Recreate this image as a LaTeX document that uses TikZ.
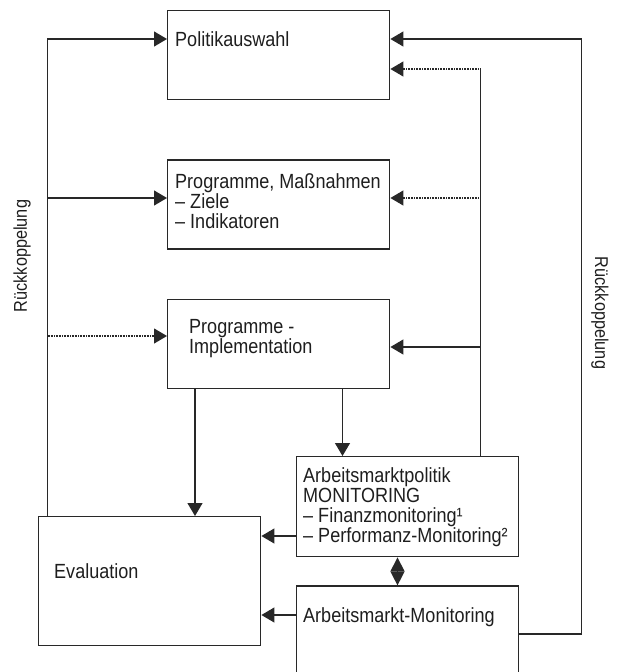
\documentclass[tikz,border=0pt]{standalone}
\usepackage{fontspec}
\setmainfont[FakeStretch=0.88]{Liberation Sans}
\usepackage{xcolor}
\usetikzlibrary{arrows.meta, positioning}
\definecolor{linegray}{RGB}{40,40,40}
\definecolor{textgray}{RGB}{30,30,30}
\tikzset{
  box/.style={
    rectangle, draw=linegray, line width=1.4pt, minimum width=222pt,
    inner sep=0pt, anchor=north west
  },
  txt/.style={
    anchor=base west, inner sep=0pt, align=left, text=textgray,
    font=\fontsize{20.5pt}{20pt}\selectfont
  },
  side/.style={inner sep=0pt, text=textgray, font=\fontsize{18.5pt}{20pt}\selectfont},
  link/.style={line width=1.2pt, draw=linegray},
  arr/.style={link, -{Triangle[length=13pt, width=15pt]}},
  dotarr/.style={arr, dash pattern=on 1pt off 0.6pt},
  twoarr/.style={link, {Triangle[length=14pt, width=14pt]}-{Triangle[length=14pt, width=14pt]}}
}

\begin{document}
\begin{tikzpicture}[x=1pt, y=-1pt]
  \useasboundingbox (0,0) rectangle (617,672);

  % boxes
  \node[box, minimum height=89.5pt] (politik) at (167,9.5) {};
  \node[box, minimum height=89pt, below=59pt of politik] (massn) {};
  \node[box, minimum height=89pt, below=49pt of massn] (impl) {};
  \node[box, minimum height=100pt] (apmon) at (296,456) {};
  \node[box, minimum height=129pt] (eval) at (38,516) {};
  \node[box, minimum height=120pt, below=28pt of apmon] (ammon) {};

  % texts (base = last line)
  \node[txt] (politiktxt) at ([shift={(8pt,-36.5pt)}]politik.north west) {Politikauswahl};
  \node[txt] (massntxt) at ([shift={(8pt,-69pt)}]massn.north west)
    {Programme, Maßnahmen\\– Ziele\\– Indikatoren};
  \node[txt] (impltxt) at ([shift={(22pt,-55pt)}]impl.north west) {Programme -\\Implementation};
  \node[txt] (apmontxt) at ([shift={(7pt,-86pt)}]apmon.north west)
    {Arbeitsmarktpolitik\\MONITORING\\– Finanzmonitoring¹\\– Performanz-Monitoring²};
  \node[txt] (ammontxt) at ([shift={(7pt,-37pt)}]ammon.north west) {Arbeitsmarkt-Monitoring};
  \node[txt] (evaltxt) at ([shift={(16pt,-62pt)}]eval.north west) {Evaluation};

  \node[side, rotate=90] (rueckl) at (22,256) {Rückkoppelung};
  \node[side, rotate=-90] (rueckr) at (600,313) {Rückkoppelung};

  % rails
  \coordinate (ltop) at (47.5,39);
  \coordinate (lmid) at (47.5,198);
  \coordinate (limp) at (47.5,336);
  \coordinate (itop) at (480.5,69);
  \coordinate (imid) at (480.5,198);
  \coordinate (iimp) at (480.5,347);
  \coordinate (otop) at (581.5,39);
  \coordinate (obot) at (581.5,634);
  \coordinate (ie) at (195,0);
  \coordinate (ia) at (342.5,0);
  \coordinate (dm) at (397.5,0);
  \coordinate (ae) at (0,536);
  \coordinate (me) at (0,615);

  % left feedback
  \draw[arr] (eval.north -| ltop) -- (ltop) -- (ltop -| politik.west);
  \draw[arr] (lmid) -- (lmid -| massn.west);
  \draw[dotarr] (limp) -- (limp -| impl.west);

  % monitoring back to the top
  \draw[link] (apmon.north -| itop) -- (itop);
  \draw[dotarr] (itop) -- (itop -| politik.east);
  \draw[dotarr] (imid) -- (imid -| massn.east);
  \draw[arr] (iimp) -- (iimp -| impl.east);

  % right feedback
  \draw[arr] (ammon.east |- obot) -- (obot) -- (otop) -- (otop -| politik.east);

  \draw[arr] (impl.south -| ie) -- (eval.north -| ie);
  \draw[arr] (impl.south -| ia) -- (apmon.north -| ia);
  \draw[arr] (apmon.west |- ae) -- (eval.east |- ae);
  \draw[arr] (ammon.west |- me) -- (eval.east |- me);
  \draw[twoarr] (apmon.south -| dm) -- (ammon.north -| dm);
\end{tikzpicture}
\end{document}
